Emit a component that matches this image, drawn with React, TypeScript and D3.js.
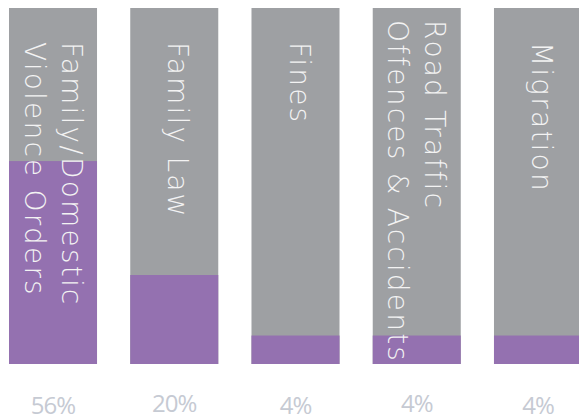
import React from "react";
import * as d3 from "d3";

const categories = ["Family/Domestic Violence Orders", "Family Law", "Fines", "Road Traffic Offences & Accidents", "Migration"];
const labelLines = [["Family/Domestic", "Violence Orders"], ["Family Law"], ["Fines"], ["Road Traffic", "Offences & Accidents"], ["Migration"]];
const percentValues = [56, 20, 4, 4, 4];
const filledShare = [57, 25, 8, 8, 8];
const totalShare = [100, 100, 100, 100, 100];

const W = 579;
const H = 420;
const GRAY = "#9ea0a3";
const PURPLE = "#9471b0";
const LABEL_FONT = "'DejaVu Sans', sans-serif";

export default function App() {
  const x = d3.scaleBand<string>().domain(categories).range([9, 582]).paddingInner(0.274).paddingOuter(0);
  const y = d3.scaleLinear().domain([0, 100]).range([364, 8]);
  const bw = x.bandwidth();
  const capH = 20;
  const lineGap = 37;
  const labelTopY = (i: number) => (labelLines[i].length > 1 && i === 3 ? 20 : 42);
  const pctBaseline = (i: number) => (i % 2 === 1 ? 411.5 : 414);

  return (
    <>
      <style>{`body{margin:0;overflow:hidden}`}</style>
      <svg width={W} height={H} style={{ position: "absolute", left: 0, top: 0, display: "block" }}>
        <rect width={W} height={H} fill="#ffffff" />
        {categories.map((c, i) => {
          const x0 = x(c)!;
          const cx = x0 + bw / 2;
          const lines = labelLines[i];
          const n = lines.length;
          const shift = n === 1 ? 4 : 0;
          return (
            <g key={c}>
              <rect x={x0} y={y(totalShare[i])} width={bw} height={y(0) - y(totalShare[i])} fill={GRAY} />
              <rect x={x0} y={y(filledShare[i])} width={bw} height={y(0) - y(filledShare[i])} fill={PURPLE} />
              <g transform={`translate(${cx},${labelTopY(i)}) rotate(90)`}>
                {lines.map((ln, j) => {
                  const capCenterScreen = ((n - 1) / 2 - j) * lineGap + shift;
                  const baselineScreen = capCenterScreen - capH / 2;
                  return (
                    <text
                      key={j}
                      x={0}
                      y={-baselineScreen}
                      fill="#f3f3f3"
                      fontFamily={LABEL_FONT}
                      fontWeight={200}
                      fontSize={28}
                      letterSpacing={2.2}
                    >
                      {ln}
                    </text>
                  );
                })}
              </g>
              <text
                x={cx}
                y={pctBaseline(i)}
                textAnchor="middle"
                fill="#c6cad3"
                fontFamily="'Open Sans', sans-serif"
                fontSize={24}
                letterSpacing={-1}
              >
                {percentValues[i]}%
              </text>
            </g>
          );
        })}
      </svg>
    </>
  );
}
